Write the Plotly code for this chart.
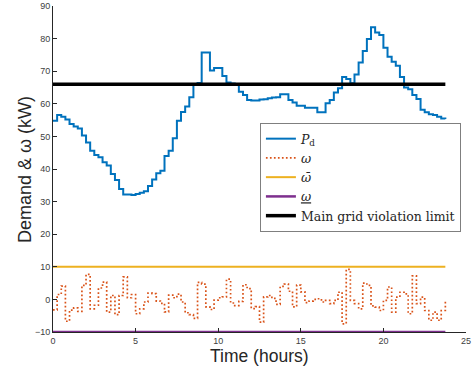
import plotly.graph_objects as go

# time axis: 15-minute steps, 0 .. 23.75 h
t = [k * 0.25 for k in range(96)]

pd_demand = [
    54.8, 56.6, 56.0, 55.2, 53.8, 53.0, 52.4, 50.3, 48.1, 45.6, 44.3, 43.6,
    42.1, 41.1, 38.5, 36.6, 33.9, 32.2, 32.2, 32.0, 32.3, 32.7, 33.2, 34.8,
    36.8, 38.7, 39.5, 44.0, 45.6, 49.4, 54.8, 57.5, 59.2, 62.0, 65.8, 66.4,
    75.7, 75.7, 70.2, 71.0, 71.0, 68.5, 66.5, 66.2, 65.8, 63.7, 62.7, 61.2,
    61.0, 61.0, 61.3, 61.4, 61.7, 61.9, 62.0, 62.9, 62.9, 61.2, 60.4, 59.4,
    59.4, 58.8, 58.8, 58.8, 57.4, 57.4, 60.2, 61.2, 63.5, 64.8, 68.2, 67.6,
    66.3, 69.0, 72.7, 76.2, 79.9, 83.5, 81.9, 81.1, 77.2, 74.4, 72.9, 71.7,
    68.2, 65.0, 64.5, 62.7, 61.5, 58.2, 57.4, 56.8, 56.6, 56.0, 55.5, 55.3,
]

omega = [
    -3.2, 1.5, 4.1, -6.7, -3.3, -2.6, -3.7, 4.3, 7.7, -2.9, -1.8, 3.5,
    5.3, -3.9, 1.2, -4.7, 1.2, 6.9, 0.5, 1.5, -4.4, -2.9, -0.8, 1.9,
    1.8, -0.5, -1.2, -3.8, 1.3, 0.5, 1.6, -0.8, -4.1, -4.7, -5.8, 5.2,
    4.7, -2.3, -3.1, -0.2, 0.5, 0.8, 6.2, -1.1, -1.9, -0.6, 4.5, 3.3,
    -2.8, -2.2, -7.0, 0.8, 1.2, 0.3, -1.5, 4.0, 4.7, 2.5, -2.3, 4.4,
    2.3, -1.0, -0.5, 0.0, 0.2, -0.8, -0.3, -1.3, -0.3, 2.2, -7.5, 9.2,
    -0.3, -1.3, -2.9, 5.0, 4.3, -2.0, -2.4, -3.4, -0.3, 3.8, -3.9, 0.7,
    2.2, 1.7, -4.4, 7.2, -1.3, 0.7, -3.4, -6.4, -3.9, -6.4, -3.4, -0.3,
]

omega_max = 10
omega_min = -10
grid_limit = 66

x_ticks = [0, 5, 10, 15, 20, 25]
y_ticks = [-10, 0, 10, 20, 30, 40, 50, 60, 70, 80, 90]

fig = go.Figure()
fig.add_trace(go.Scatter(x=t, y=pd_demand, mode="lines", line_shape="hv",
                         line=dict(color="#0072BD", width=2),
                         name="<i>P</i><sub>d</sub>"))
fig.add_trace(go.Scatter(x=t, y=omega, mode="lines", line_shape="hv",
                         line=dict(color="#D95319", width=1.7, dash="1.7px,2.3px"),
                         name="<i>ω</i>"))
fig.add_trace(go.Scatter(x=[t[0], t[-1]], y=[omega_max, omega_max], mode="lines",
                         line=dict(color="#EDB120", width=2),
                         name="<i>ω\u0304</i>"))
fig.add_trace(go.Scatter(x=[t[0], t[-1]], y=[omega_min, omega_min], mode="lines",
                         line=dict(color="#7E2F8E", width=2.5), cliponaxis=False,
                         name="<u><i>ω</i></u>"))
fig.add_trace(go.Scatter(x=[t[0], t[-1]], y=[grid_limit, grid_limit], mode="lines",
                         line=dict(color="#000000", width=3.5),
                         name="Main grid violation limit"))

axis_common = dict(showgrid=False, zeroline=False, showline=True,
                   linecolor="#262626", linewidth=1, ticks="inside", ticklen=4,
                   tickcolor="#262626", mirror=False, automargin=False,
                   tickfont=dict(family="Liberation Sans, Arial", size=9, color="#404040"))

fig.update_layout(
    width=476, height=367,
    margin=dict(l=53, r=10, t=6, b=35, autoexpand=False),
    plot_bgcolor="white", paper_bgcolor="white",
    xaxis=dict(range=[0, 25], tickvals=x_ticks, **axis_common),
    yaxis=dict(range=[-10, 90], tickvals=y_ticks, **axis_common),
    legend=dict(x=0.501, y=0.641, xanchor="left", yanchor="top",
                bgcolor="white", bordercolor="#7f7f7f", borderwidth=1,
                font=dict(family="DejaVu Serif", size=12.5, color="#262626"),
                itemwidth=30, tracegroupgap=0),
    showlegend=True,
    annotations=[
        dict(text="Time (hours)", xref="paper", yref="paper", x=0.5, y=-0.0735,
             xanchor="center", yanchor="middle", showarrow=False,
             font=dict(family="Liberation Sans, Arial", size=17.5, color="#262626")),
        dict(text="Demand & ω (kW)", xref="paper", yref="paper", x=-0.0678, y=0.5,
             xanchor="center", yanchor="middle", showarrow=False, textangle=-90,
             font=dict(family="Liberation Sans, Arial", size=18, color="#262626")),
    ],
)

fig.write_html("out.html", config={"displayModeBar": False},
               post_script="document.body.style.margin='0';")
